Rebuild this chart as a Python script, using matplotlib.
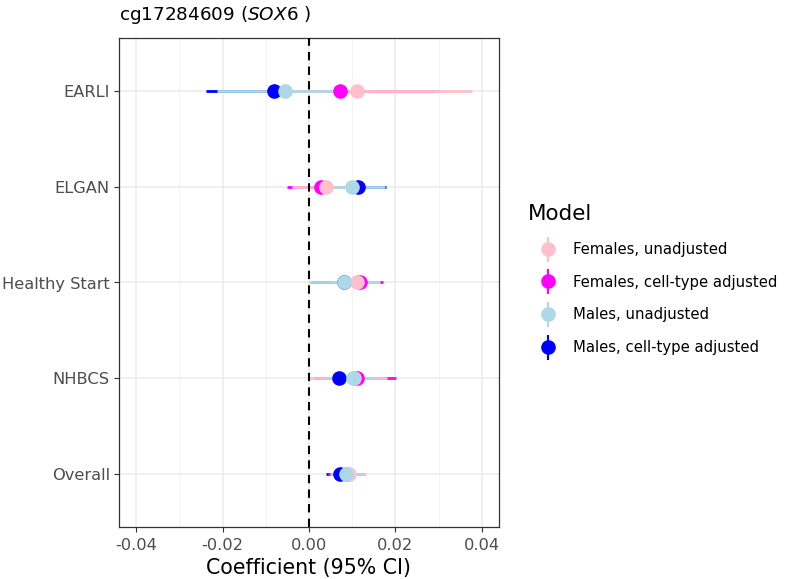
import matplotlib
matplotlib.use("Agg")
import matplotlib.pyplot as plt
from matplotlib.lines import Line2D
from matplotlib.legend_handler import HandlerTuple

plt.rcParams['font.family'] = ['DejaVu Sans']
plt.rcParams['mathtext.fontset'] = 'dejavusans'

cohorts = ["EARLI", "ELGAN", "Healthy Start", "NHBCS", "Overall"]
models = ["Females, unadjusted", "Females, cell-type adjusted",
          "Males, unadjusted", "Males, cell-type adjusted"]
colors = ["#FFC0CB", "#FF00FF", "#ADD8E6", "#0000FF"]

# estimates and CIs per model, in cohort order
est = {
    "Females, unadjusted":         [0.0110, 0.0039, 0.0112, 0.0104, 0.0092],
    "Females, cell-type adjusted": [0.0072, 0.0027, 0.0117, 0.0110, 0.0089],
    "Males, unadjusted":           [-0.0055, 0.0099, 0.0080, 0.0101, 0.0086],
    "Males, cell-type adjusted":   [-0.0082, 0.0113, 0.0081, 0.0069, 0.0071],
}
lower = {
    "Females, unadjusted":         [-0.0040, -0.0040, 0.0050, -0.0003, 0.0050],
    "Females, cell-type adjusted": [-0.0100, -0.0051, 0.0055, 0.0020, 0.0045],
    "Males, unadjusted":           [-0.0213, 0.0020, 0.0000, 0.0040, 0.0048],
    "Males, cell-type adjusted":   [-0.0239, 0.0045, 0.0005, 0.0011, 0.0040],
}
upper = {
    "Females, unadjusted":         [0.0378, 0.0110, 0.0165, 0.0180, 0.0133],
    "Females, cell-type adjusted": [0.0300, 0.0100, 0.0171, 0.0202, 0.0130],
    "Males, unadjusted":           [0.0065, 0.0175, 0.0160, 0.0155, 0.0122],
    "Males, cell-type adjusted":   [0.0075, 0.0179, 0.0155, 0.0130, 0.0110],
}
xticks = [-0.04, -0.02, 0.00, 0.02, 0.04]
xtick_labels = ["-0.04", "-0.02", "0.00", "0.02", "0.04"]

fig = plt.figure(figsize=(8, 5.79), dpi=100)
ax = fig.add_axes([119/800, 1-527/579, 380/800, 489/579])

ypos = {c: len(cohorts) - i for i, c in enumerate(cohorts)}
ys = [ypos[c] for c in cohorts]

draw_order = ["Males, cell-type adjusted", "Females, cell-type adjusted",
              "Females, unadjusted", "Males, unadjusted"]
cmap = dict(zip(models, colors))
for m in draw_order:
    col = cmap[m]
    ax.hlines(ys, lower[m], upper[m], color=col, linewidth=2.0, zorder=3)
    ax.plot(est[m], ys, 'o', color=col, markersize=9.5, zorder=4, linestyle='none')

ax.axvline(0, color='black', linestyle=(0, (4, 3)), linewidth=1.5, zorder=5)

ax.set_xlim(-0.044, 0.044)
ax.set_ylim(0.44, 5.56)
ax.set_xticks(xticks)
ax.set_xticklabels(xtick_labels)
ax.set_xticks([-0.03, -0.01, 0.01, 0.03], minor=True)
ax.set_yticks(ys)
ax.set_yticklabels(cohorts)
ax.grid(which='major', color='#EBEBEB', linewidth=1.1, zorder=0)
ax.grid(which='minor', axis='x', color='#F2F2F2', linewidth=0.6, zorder=0)
ax.set_axisbelow(True)
for s in ax.spines.values():
    s.set_color('#333333')
    s.set_linewidth(0.9)
ax.tick_params(axis='x', which='major', pad=4.5)
ax.tick_params(axis='both', which='major', length=3.5, color='#333333',
               labelsize=11.7, labelcolor='#4D4D4D')
ax.tick_params(axis='y', which='major', pad=3)
ax.tick_params(axis='both', which='minor', length=0)
ax.set_xlabel("Coefficient (95% CI)", fontsize=14.8, labelpad=3.5)
ax.set_title(r"cg17284609 ($\mathit{SOX6}$ )", fontsize=13.2, loc='left', x=-0.0, pad=13)

handles = []
for m in models:
    col = cmap[m]
    h1 = Line2D([], [], color=col, marker='|', markersize=18, linestyle='none', markeredgewidth=1.5)
    h2 = Line2D([], [], color=col, marker='o', markersize=9.5, linestyle='none')
    handles.append((h1, h2))
leg = fig.legend(handles, models, handler_map={tuple: HandlerTuple(ndivide=1)},
                 loc='upper left', bbox_to_anchor=(522/800, 1-198/579),
                 frameon=False, title="Model", title_fontsize=15.5, fontsize=10.7,
                 labelspacing=1.2, handlelength=2.7, handletextpad=0.35,
                 borderaxespad=0)
leg._legend_box.align = "left"

fig.savefig("out.png", dpi=100)
